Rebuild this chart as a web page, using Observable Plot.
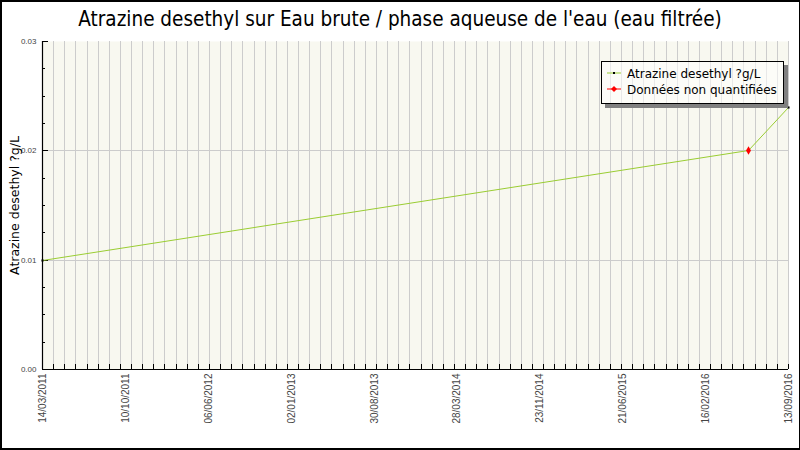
<!DOCTYPE html>
<html>
<head>
<meta charset="utf-8">
<script src="https://cdn.jsdelivr.net/npm/d3@7"></script>
<script src="https://cdn.jsdelivr.net/npm/@observablehq/plot@0.6"></script>
<style>
  html, body { margin: 0; padding: 0; background: #fff; }
  #wrap { position: relative; width: 800px; height: 450px; overflow: hidden; background: #fff; }
  #title { height: 36px; box-sizing: border-box; padding-top: 8px; text-align: center; white-space: nowrap;
           font-family: "DejaVu Sans Condensed", "DejaVu Sans", sans-serif; font-size: 20.5px; line-height: 22px; color: #000; }
  #border { position: absolute; left: 0; top: 0; width: 800px; height: 450px; box-sizing: border-box;
            border: 2px solid #000; border-right-width: 1px; pointer-events: none; }
  #legend { position: absolute; left: 601px; top: 61px; width: 183px; height: 43px; box-sizing: border-box;
            border: 1px solid #000; background: rgba(255,255,255,0.55); box-shadow: 4px 4px 0 #808080;
            font-family: "DejaVu Sans", sans-serif; font-size: 12px; color: #000; }
  .item { position: absolute; left: 25px; line-height: 14px; white-space: nowrap; }
  .mk { position: absolute; left: 5px; width: 14px; height: 6px; }
</style>
</head>
<body>
<div id="wrap">
  <div id="title"></div>
  <div id="chart"></div>
  <div id="legend">
    <svg class="mk" style="top:8px" width="14" height="6"><line x1="0" y1="3" x2="14" y2="3" stroke="#9acd32"/><rect x="6" y="2" width="2" height="2" fill="#000"/></svg>
    <div class="item" id="leg1" style="top:5px"></div>
    <svg class="mk" style="top:24px" width="14" height="6"><line x1="0" y1="3" x2="14" y2="3" stroke="#ff0000"/><path d="M7,0 L10,3 L7,6 L4,3 Z" fill="#ff0000"/></svg>
    <div class="item" id="leg2" style="top:21px"></div>
  </div>
  <div id="border"></div>
</div>
<script>
// ---- data ----
const titleText = "Atrazine desethyl sur Eau brute / phase aqueuse de l'eau (eau filtrée)";
const yLabel = "Atrazine desethyl ?g/L";
const seriesName = "Atrazine desethyl ?g/L";
const nonQuantName = "Données non quantifiées";
const dates = ["2011-03-14", "2016-05-29", "2016-09-13"];
const values = [0.01, 0.02, 0.024];
const quantified = [true, false, true];
const xStart = "2011-03-14";
const xEnd = "2016-09-13";
const tickLabels = ["14/03/2011", "10/10/2011", "06/06/2012", "02/01/2013", "30/08/2013",
                    "28/03/2014", "23/11/2014", "21/06/2015", "16/02/2016", "13/09/2016"];
const yMajor = [0, 0.01, 0.02, 0.03];
const yMinor = [0.0025, 0.005, 0.0075, 0.0125, 0.015, 0.0175, 0.0225, 0.025, 0.0275];
const yGrid = [0.01, 0.02];
const gridStepDays = 30;

document.getElementById("title").textContent = titleText;
document.getElementById("leg1").textContent = seriesName;
document.getElementById("leg2").textContent = nonQuantName;

const start = new Date(xStart), end = new Date(xEnd);
const data = dates.map((d, i) => ({date: new Date(d), value: values[i], q: quantified[i]}));
const nGrid = Math.round((end - start) / 864e5 / gridStepDays);
const gridDates = d3.range(0, nGrid + 1).map(i => d3.utcDay.offset(start, i * gridStepDays));
const labelDates = tickLabels.map((t, i) => new Date(+start + i * (end - start) / (tickLabels.length - 1)));

const W = 800, H = 414, mt = 5, mb = 81, ml = 42, mr = 12;
const ph = H - mt - mb, pw = W - ml - mr;

const chart = Plot.plot({
  width: W, height: H,
  marginTop: mt, marginBottom: mb, marginLeft: ml, marginRight: mr,
  x: {type: "utc", domain: [start, end], round: true},
  y: {domain: [0, 0.03], round: true},
  style: {background: "transparent", overflow: "visible"},
  marks: [
    Plot.frame({fill: "#f8f8f0", stroke: null}),
    Plot.ruleX(gridDates, {stroke: "#cccccc", strokeWidth: 1}),
    Plot.ruleY(yGrid, {stroke: "#cccccc", strokeWidth: 1}),
    Plot.ruleX(gridDates, {stroke: "#000", insetTop: ph - 5}),
    Plot.ruleY(yMinor, {stroke: "#000", insetRight: pw - 3}),
    Plot.ruleY(yMajor, {stroke: "#000", insetRight: pw - 6}),
    Plot.ruleX([start], {stroke: "#000", strokeWidth: 1.2}),
    Plot.ruleY([0], {stroke: "#000", strokeWidth: 1.2}),
    Plot.line(data, {x: "date", y: "value", stroke: "#9acd32", strokeWidth: 1}),
    Plot.dot(data.filter(d => d.q), {x: "date", y: "value", symbol: "square", r: 1.2, fill: "#000", stroke: null}),
    Plot.dot(data.filter(d => !d.q), {x: "date", y: "value", symbol: "diamond", r: 2.6, fill: "#ff0000", stroke: null}),
    Plot.axisX({
      ticks: labelDates,
      tickFormat: d => tickLabels[labelDates.findIndex(t => +t === +d)],
      tickSize: 0, tickPadding: 4, tickRotate: -90, label: null,
      fontSize: 10, fontFamily: "Liberation Sans, Arial, sans-serif", fill: "#444"
    }),
    Plot.axisY({
      ticks: yMajor, tickFormat: d => d.toFixed(2),
      tickSize: 0, tickPadding: 6, label: null,
      fontSize: 8, fontFamily: "Liberation Sans, Arial, sans-serif", fill: "#444"
    }),
    Plot.text([yLabel], {
      text: d => d, frameAnchor: "left", rotate: -90, dx: -28, textAnchor: "middle", lineAnchor: "middle",
      fontSize: 12.5, fontFamily: "DejaVu Sans, sans-serif", fill: "#000"
    })
  ]
});
document.getElementById("chart").append(chart);
</script>
</body>
</html>
